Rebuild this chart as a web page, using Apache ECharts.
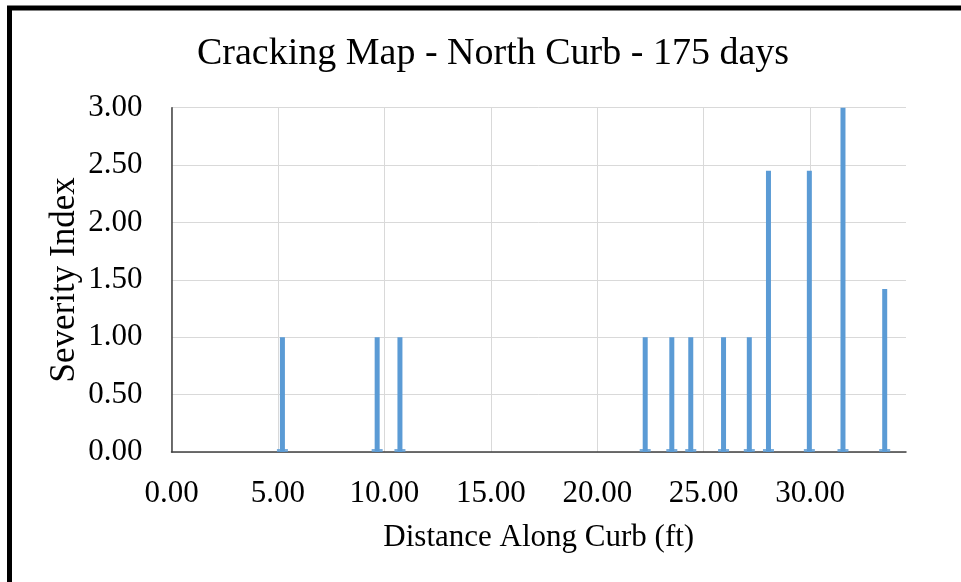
<!DOCTYPE html>
<html>
<head>
<meta charset="utf-8">
<script src="https://cdn.jsdelivr.net/npm/echarts@6/dist/echarts.min.js"></script>
<style>
html,body{margin:0;padding:0;background:#fff;}
#chart{width:961px;height:582px;}
</style>
</head>
<body>
<div id="chart"></div>
<script>
const titleText = 'Cracking Map - North Curb - 175 days';
const xAxisName = 'Distance Along Curb (ft)';
const yAxisName = 'Severity Index';
const distances = [5.21, 9.66, 10.73, 22.25, 23.50, 24.39, 25.93, 27.14, 28.04, 29.96, 31.54, 33.50];
const severity = [1.00, 1.00, 1.00, 1.00, 1.00, 1.00, 1.00, 1.00, 2.45, 2.45, 3.00, 1.42];

const barData = distances.map((d, i) => [d, severity[i]]);
const baseData = distances.map(d => [d, 0]);

const serif = '"Liberation Serif", "Times New Roman", serif';
const chart = echarts.init(document.getElementById('chart'), null, {renderer: 'canvas'});
chart.setOption({
  animation: false,
  backgroundColor: '#fff',
  title: {
    text: titleText,
    left: 488,
    textAlign: 'center',
    top: 30,
    textStyle: {fontFamily: serif, fontSize: 38, fontWeight: 'normal', color: '#000'}
  },
  graphic: [{
    type: 'rect',
    shape: {x: 9.5, y: 8, width: 1200, height: 1200},
    style: {fill: 'none', stroke: '#000', lineWidth: 5},
    silent: true
  }],
  grid: {left: 171.5, right: 55, top: 107.7, bottom: 130, containLabel: false},
  xAxis: {
    type: 'value',
    min: 0, max: 34.5, interval: 5,
    name: xAxisName,
    nameLocation: 'middle',
    nameGap: 70,
    nameMoveOverlap: false,
    nameTextStyle: {fontFamily: serif, fontSize: 31, color: '#000'},
    axisLine: {show: true, onZero: false, lineStyle: {color: '#404040', width: 1.5}},
    axisTick: {show: false},
    splitLine: {show: true, showMaxLine: false, lineStyle: {color: '#d9d9d9', width: 1}},
    axisLabel: {
      fontFamily: serif, fontSize: 31, color: '#000', margin: 26,
      showMaxLabel: false,
      formatter: v => (Math.abs(v % 5) < 1e-9 ? v.toFixed(2) : '')
    }
  },
  yAxis: {
    type: 'value',
    min: 0, max: 3, interval: 0.5,
    name: yAxisName,
    nameLocation: 'middle',
    nameGap: 89,
    nameMoveOverlap: false,
    nameRotate: 90,
    nameTextStyle: {fontFamily: serif, fontSize: 35, color: '#000'},
    axisLine: {show: true, lineStyle: {color: '#404040', width: 1.5}},
    axisTick: {show: false},
    splitLine: {show: true, lineStyle: {color: '#d9d9d9', width: 1}},
    axisLabel: {
      fontFamily: serif, fontSize: 31, color: '#000', margin: 29,
      formatter: v => v.toFixed(2)
    }
  },
  series: [
    {
      type: 'bar',
      data: barData,
      barWidth: 5,
      itemStyle: {color: '#5b9bd5'},
      silent: true
    },
    {
      type: 'scatter',
      data: baseData,
      symbol: 'rect',
      symbolSize: [11, 3],
      symbolOffset: [0, -1.5],
      itemStyle: {color: '#5b9bd5'},
      silent: true,
      z: 3
    }
  ]
});
</script>
</body>
</html>
